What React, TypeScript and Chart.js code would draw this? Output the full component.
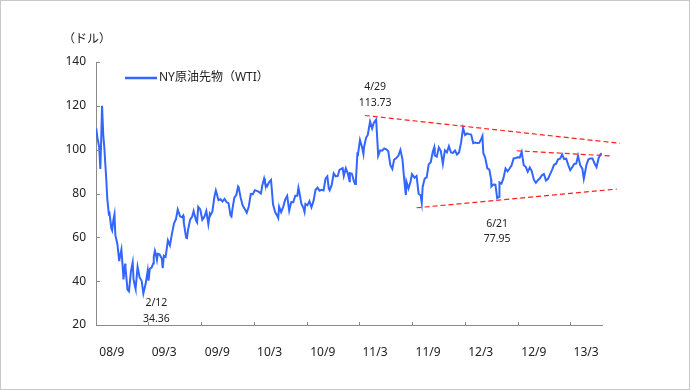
import React, { useEffect, useRef } from 'react';
import { Chart, registerables } from 'chart.js';

Chart.register(...registerables);

// ---- data (weekly-ish closes) ----
const dates: string[] = [
  '2008-09-02','2008-09-05','2008-09-12','2008-09-16','2008-09-19','2008-09-22','2008-09-26','2008-09-30',
  '2008-10-03','2008-10-06','2008-10-10','2008-10-16','2008-10-17','2008-10-24','2008-10-27','2008-10-31',
  '2008-11-04','2008-11-07','2008-11-14','2008-11-20','2008-11-21','2008-11-28',
  '2008-12-04','2008-12-05','2008-12-11','2008-12-12','2008-12-19','2008-12-24','2008-12-26','2008-12-31',
  '2009-01-06','2009-01-09','2009-01-15','2009-01-16','2009-01-23','2009-01-30',
  '2009-02-06','2009-02-12','2009-02-20','2009-02-27',
  '2009-03-02','2009-03-06','2009-03-13','2009-03-18','2009-03-20','2009-03-24','2009-03-27','2009-03-31',
  '2009-04-03','2009-04-09','2009-04-17','2009-04-20','2009-04-24','2009-04-30',
  '2009-05-08','2009-05-15','2009-05-22','2009-05-29',
  '2009-06-05','2009-06-11','2009-06-19','2009-06-26','2009-06-30',
  '2009-07-02','2009-07-10','2009-07-13','2009-07-17','2009-07-24','2009-07-31',
  '2009-08-05','2009-08-07','2009-08-14','2009-08-17','2009-08-21','2009-08-28',
  '2009-09-04','2009-09-11','2009-09-18','2009-09-25','2009-09-30',
  '2009-10-02','2009-10-09','2009-10-16','2009-10-21','2009-10-23','2009-10-30',
  '2009-11-06','2009-11-13','2009-11-20','2009-11-27',
  '2009-12-04','2009-12-11','2009-12-14','2009-12-18','2009-12-24','2009-12-31',
  '2010-01-06','2010-01-08','2010-01-15','2010-01-22','2010-01-29',
  '2010-02-05','2010-02-12','2010-02-19','2010-02-26',
  '2010-03-05','2010-03-12','2010-03-19','2010-03-26','2010-03-31',
  '2010-04-06','2010-04-09','2010-04-16','2010-04-23','2010-04-30',
  '2010-05-07','2010-05-14','2010-05-21','2010-05-25','2010-05-28',
  '2010-06-04','2010-06-11','2010-06-18','2010-06-25',
  '2010-07-02','2010-07-09','2010-07-16','2010-07-23','2010-07-30',
  '2010-08-03','2010-08-06','2010-08-13','2010-08-20','2010-08-24','2010-08-27',
  '2010-09-03','2010-09-10','2010-09-17','2010-09-24',
  '2010-10-01','2010-10-08','2010-10-15','2010-10-22','2010-10-29',
  '2010-11-05','2010-11-11','2010-11-16','2010-11-19','2010-11-26',
  '2010-12-03','2010-12-10','2010-12-17','2010-12-23','2010-12-31',
  '2011-01-03','2011-01-07','2011-01-14','2011-01-21','2011-01-27','2011-01-28',
  '2011-02-04','2011-02-11','2011-02-15','2011-02-18','2011-02-23','2011-02-25',
  '2011-03-04','2011-03-11','2011-03-16','2011-03-18','2011-03-25','2011-03-31',
  '2011-04-08','2011-04-15','2011-04-21','2011-04-29',
  '2011-05-05','2011-05-06','2011-05-13','2011-05-20','2011-05-27',
  '2011-06-03','2011-06-10','2011-06-17','2011-06-24','2011-06-30',
  '2011-07-08','2011-07-15','2011-07-22','2011-07-29',
  '2011-08-04','2011-08-08','2011-08-10','2011-08-12','2011-08-19','2011-08-26','2011-08-31',
  '2011-09-09','2011-09-16','2011-09-23','2011-09-30',
  '2011-10-04','2011-10-07','2011-10-14','2011-10-21','2011-10-28',
  '2011-11-04','2011-11-11','2011-11-16','2011-11-18','2011-11-25',
  '2011-12-02','2011-12-09','2011-12-16','2011-12-23','2011-12-30',
  '2012-01-06','2012-01-13','2012-01-20','2012-01-27',
  '2012-02-03','2012-02-10','2012-02-17','2012-02-24',
  '2012-03-02','2012-03-09','2012-03-16','2012-03-23','2012-03-30',
  '2012-04-05','2012-04-13','2012-04-20','2012-04-27',
  '2012-05-01','2012-05-04','2012-05-11','2012-05-18','2012-05-25','2012-05-31',
  '2012-06-01','2012-06-08','2012-06-15','2012-06-21','2012-06-28','2012-06-29',
  '2012-07-06','2012-07-13','2012-07-20','2012-07-27',
  '2012-08-03','2012-08-10','2012-08-17','2012-08-24','2012-08-31',
  '2012-09-07','2012-09-14','2012-09-21','2012-09-28',
  '2012-10-05','2012-10-12','2012-10-19','2012-10-26',
  '2012-11-02','2012-11-09','2012-11-16','2012-11-23','2012-11-30',
  '2012-12-07','2012-12-14','2012-12-21','2012-12-28',
  '2013-01-04','2013-01-11','2013-01-18','2013-01-25',
  '2013-02-01','2013-02-08','2013-02-15','2013-02-22',
  '2013-03-01','2013-03-08','2013-03-15','2013-03-22','2013-03-28',
  '2013-04-05','2013-04-12','2013-04-17','2013-04-19','2013-04-26',
  '2013-05-03','2013-05-10','2013-05-17','2013-05-24','2013-05-31',
  '2013-06-07','2013-06-14','2013-06-18',
];

const wti: number[] = [
  109.7, 106.2, 101.2, 91.2, 104.6, 120.0, 106.9, 100.6,
  93.9, 87.8, 77.7, 69.9, 71.9, 64.2, 63.2, 67.8,
  70.5, 61.0, 57.0, 49.6, 49.9, 54.4,
  43.7, 40.8, 48.0, 46.3, 36.2, 35.4, 37.7, 44.6,
  48.6, 40.8, 37.0, 36.5, 46.5, 41.7,
  40.2, 34.36, 38.9, 44.8,
  40.2, 45.5, 46.3, 48.1, 51.1, 53.8, 52.4, 49.7,
  52.5, 52.2, 50.3, 45.9, 51.6, 51.1,
  58.6, 56.3, 61.7, 66.3,
  68.4, 72.7, 69.6, 69.2, 69.9,
  66.7, 59.9, 59.7, 63.6, 68.1, 69.5,
  72.0, 70.9, 67.5, 66.8, 73.9, 72.7,
  68.0, 69.3, 72.0, 66.0, 70.6,
  70.0, 71.8, 78.5, 81.4, 80.5, 77.0,
  77.4, 76.4, 77.5, 76.1,
  75.5, 69.9, 69.5, 73.4, 78.1, 79.4,
  83.2, 82.8, 78.0, 74.5, 72.9,
  71.2, 74.1, 79.8, 79.7,
  81.5, 81.2, 80.7, 80.0, 83.8,
  86.8, 84.9, 83.2, 85.1, 86.2,
  75.1, 71.6, 70.0, 68.8, 74.0,
  71.5, 73.8, 77.2, 78.9,
  72.1, 76.1, 76.0, 79.0, 79.0,
  82.6, 80.7, 75.4, 73.5, 71.6, 75.2,
  74.6, 76.5, 73.7, 76.5,
  81.6, 82.7, 81.3, 81.7, 81.4,
  86.9, 87.8, 82.3, 81.5, 83.8,
  89.2, 87.8, 88.0, 90.8, 91.4,
  91.6, 88.0, 91.5, 89.1, 85.6, 89.3,
  89.0, 85.6, 84.3, 86.2, 98.1, 97.9,
  104.4, 101.2, 98.0, 101.1, 105.4, 106.7,
  112.8, 109.7, 112.3, 113.73,
  99.8, 97.2, 99.7, 99.5, 100.6,
  100.2, 99.3, 93.0, 91.2, 95.4,
  96.2, 97.2, 99.9, 95.7,
  86.6, 81.3, 79.3, 85.4, 82.3, 85.4, 88.8,
  87.2, 88.0, 79.9, 79.2,
  75.7, 83.0, 86.8, 87.4, 93.3,
  94.3, 99.0, 101.0, 97.4, 96.8,
  101.0, 99.4, 93.5, 99.7, 98.8,
  101.6, 98.7, 98.5, 99.6,
  97.8, 98.7, 103.2, 109.8,
  106.7, 107.4, 107.1, 106.9, 103.0,
  103.3, 103.0, 103.1, 104.9,
  106.2, 98.5, 96.1, 91.5, 90.9, 86.5,
  83.2, 84.1, 84.0, 77.95, 78.5, 85.0,
  84.5, 87.1, 91.4, 90.1,
  91.4, 92.9, 96.0, 96.2, 96.5,
  96.4, 99.0, 92.9, 92.2,
  89.9, 91.9, 90.1, 86.3,
  84.9, 86.1, 86.9, 88.3, 88.9,
  85.9, 86.7, 88.7, 90.8,
  93.1, 93.6, 95.6, 95.9,
  97.8, 95.7, 95.9, 93.1,
  90.7, 92.0, 93.5, 93.7, 97.2,
  92.7, 91.3, 86.7, 88.0, 93.0,
  95.6, 96.0, 96.0, 93.8, 92.0,
  96.0, 97.9, 98.4,
];

const seriesLabel = 'NY原油先物（WTI）';
const unitLabel = '（ドル）';

const axisStart = '2008-09-01';
const axisEnd = '2013-06-19';
const tickDates: string[] = ['2009-03-01','2009-09-01','2010-03-01','2010-09-01','2011-03-01','2011-09-01','2012-03-01','2012-09-01','2013-03-01'];
const labelDates: string[] = ['2008-10-26','2009-04-25','2009-10-26','2010-04-25','2010-10-26','2011-04-25','2011-10-26','2012-04-25','2012-10-26','2013-04-25'];
const xTickLabels: string[] = ['08/9','09/3','09/9','10/3','10/9','11/3','11/9','12/3','12/9','13/3'];
const yTicks: number[] = [20, 40, 60, 80, 100, 120, 140];

// trend lines (start / end)
const trendTopDates = ['2011-03-21', '2013-08-20'];
const trendTopValues = [115.6, 102.9];
const trendMidDates = ['2012-08-28', '2013-07-23'];
const trendMidValues = [99.5, 97.1];
const trendLowDates = ['2011-09-16', '2013-08-09'];
const trendLowValues = [73.5, 82.0];

// annotated points
const annoDates = ['2009-02-12', '2011-04-29', '2012-06-21'];
const annoValues = [34.36, 113.73, 77.95];
const annoLabels = ['2/12', '4/29', '6/21'];

// ---- helpers ----
const DAY = 86400000;
const t0 = Date.parse(axisStart + 'T00:00:00Z');
const dayOf = (d: string) => Math.round((Date.parse(d + 'T00:00:00Z') - t0) / DAY);

const FONT = "'Noto Sans', 'Noto Sans CJK JP', sans-serif";
const TEXT = '#222';
const AXIS = '#8a8a8a';
const BLUE = '#3366ff';
const RED = '#ff2020';

const overlay = {
  id: 'overlay',
  afterDraw(chart: any) {
    const { ctx, chartArea, scales } = chart;
    const xs = scales.x;
    const ys = scales.y;
    ctx.save();
    // inward tick marks
    ctx.strokeStyle = AXIS;
    ctx.lineWidth = 1;
    ctx.beginPath();
    tickDates.forEach((d) => {
      const px = Math.round(xs.getPixelForValue(dayOf(d))) + 0.5;
      ctx.moveTo(px, chartArea.bottom);
      ctx.lineTo(px, chartArea.bottom - 3);
    });
    yTicks.forEach((v) => {
      const py = Math.round(ys.getPixelForValue(v)) + 0.5;
      ctx.moveTo(chartArea.left, py);
      ctx.lineTo(chartArea.left + 4, py);
    });
    ctx.stroke();

    // unit label
    ctx.fillStyle = TEXT;
    ctx.font = `12px ${FONT}`;
    ctx.textAlign = 'left';
    ctx.textBaseline = 'middle';
    ctx.fillText(unitLabel, chartArea.left - 33, chartArea.top - 22);

    // legend
    const ly = chartArea.top + 16;
    ctx.strokeStyle = BLUE;
    ctx.lineWidth = 2.5;
    ctx.beginPath();
    ctx.moveTo(chartArea.left + 29, ly);
    ctx.lineTo(chartArea.left + 61, ly);
    ctx.stroke();
    ctx.fillText(seriesLabel, chartArea.left + 63, ly);

    // annotations
    ctx.font = `10.5px ${FONT}`;
    ctx.textAlign = 'center';
    const offs = [
      [13, 9, 25],
      [-1, -33, -17],
      [0, 26, 41],
    ];
    annoDates.forEach((d, i) => {
      const px = xs.getPixelForValue(dayOf(d));
      const py = ys.getPixelForValue(annoValues[i]);
      const [dx, dy1, dy2] = offs[i];
      ctx.fillText(annoLabels[i], px + dx, py + dy1);
      ctx.fillText(annoValues[i].toFixed(2), px + dx, py + dy2);
    });

    // outer frame
    ctx.strokeStyle = '#c8c8c8';
    ctx.lineWidth = 1;
    ctx.strokeRect(0.5, 0.5, chart.width - 1, chart.height - 1);
    ctx.restore();
  },
};

const trend = (ds: string[], vs: number[]) => ({
  data: ds.map((d, i) => ({ x: dayOf(d), y: vs[i] })),
  borderColor: RED,
  borderWidth: 1.2,
  borderDash: [5, 3],
  pointRadius: 0,
  clip: false,
  order: 1,
});

export default function App() {
  const ref = useRef<HTMLCanvasElement | null>(null);
  useEffect(() => {
    if (!ref.current) return;
    const chart = new Chart(ref.current, {
      type: 'line',
      data: {
        datasets: [
          {
            label: seriesLabel,
            data: dates.map((d, i) => ({ x: dayOf(d), y: wti[i] })),
            borderColor: BLUE,
            borderWidth: 2,
            pointRadius: 0,
            tension: 0,
            order: 2,
          } as any,
          trend(trendTopDates, trendTopValues),
          trend(trendMidDates, trendMidValues),
          trend(trendLowDates, trendLowValues),
        ],
      },
      options: {
        animation: false,
        responsive: false,
        layout: { padding: { left: 0, top: 62, right: 88, bottom: 0 } },
        plugins: { legend: { display: false }, tooltip: { enabled: false } },
        scales: {
          x: {
            type: 'linear',
            min: 0,
            max: dayOf(axisEnd),
            afterBuildTicks: (s: any) => {
              s.ticks = labelDates.map((d) => ({ value: dayOf(d) }));
            },
            afterFit: (s: any) => {
              s.height = 65;
            },
            ticks: {
              autoSkip: false,
              maxRotation: 0,
              padding: 20,
              color: TEXT,
              font: { family: FONT, size: 12 },
              callback: (_v: any, i: number) => xTickLabels[i],
            },
            grid: { display: false, drawTicks: false },
            border: { display: true, color: AXIS, width: 1 },
          },
          y: {
            min: 20,
            max: 140,
            afterFit: (s: any) => {
              s.width = 96;
            },
            ticks: {
              stepSize: 20,
              padding: 10,
              color: TEXT,
              font: { family: FONT, size: 12 },
            },
            grid: { display: false, drawTicks: false },
            border: { display: true, color: AXIS, width: 1 },
          },
        },
      } as any,
      plugins: [overlay],
    });
    return () => chart.destroy();
  }, []);
  return (
    <div style={{ position: 'absolute', left: 0, top: 0, width: 690, height: 390, background: '#fff' }}>
      <canvas ref={ref} width={690} height={390} style={{ display: 'block' }} />
    </div>
  );
}
